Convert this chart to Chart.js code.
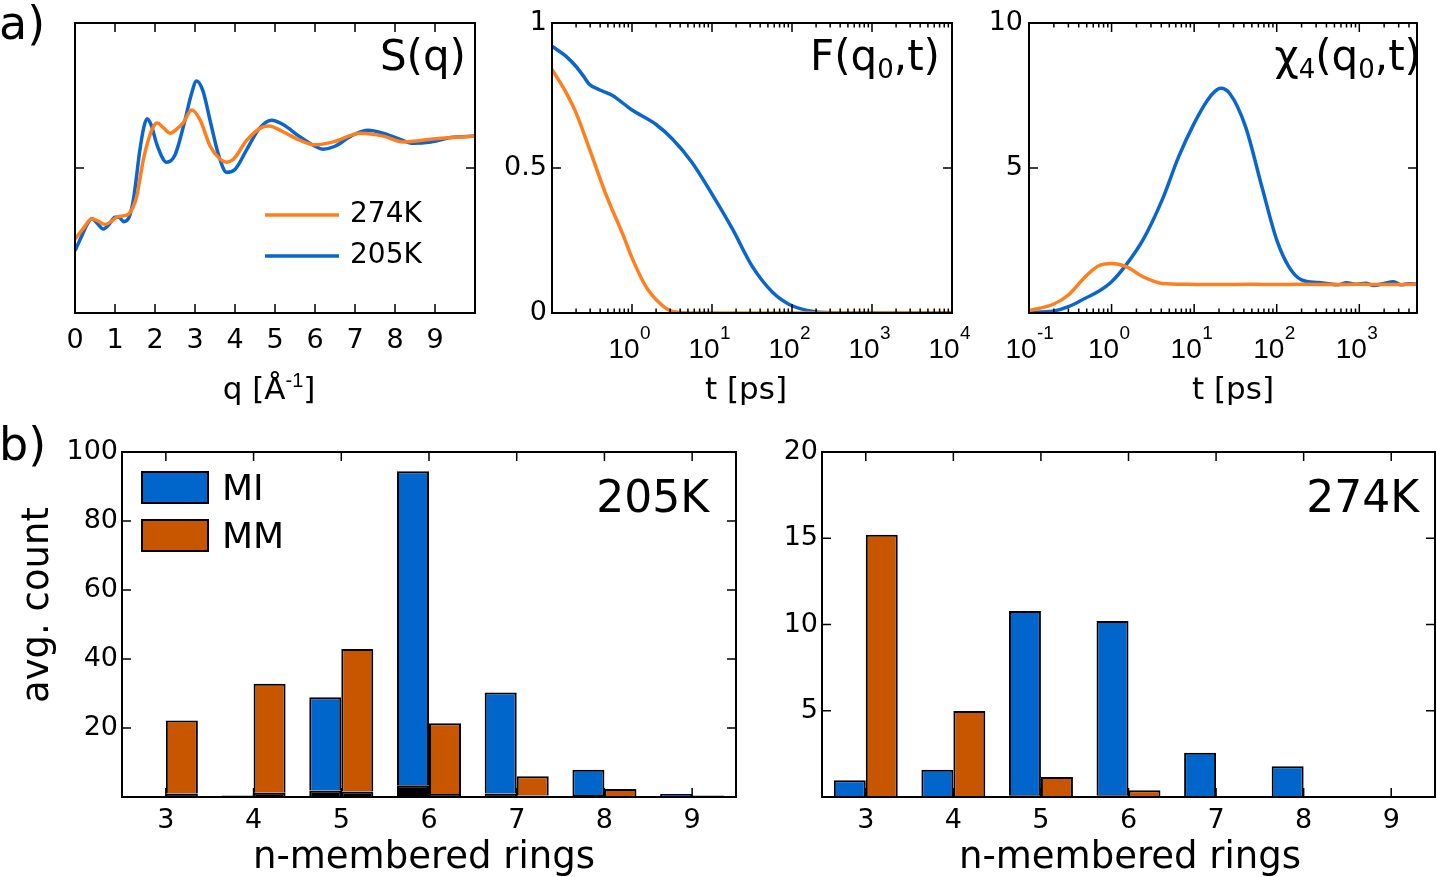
<!DOCTYPE html>
<html><head><meta charset="utf-8">
<script src="https://cdn.jsdelivr.net/npm/chart.js@4.4.1/dist/chart.umd.min.js"></script>
<style>
html,body{margin:0;padding:0;background:#fff;}
#wrap{position:relative;width:1437px;height:877px;overflow:hidden;background:#fff;}
canvas{position:absolute;left:0;top:0;}
</style></head>
<body><div id="wrap">
<canvas id="pS" width="1437" height="877"></canvas>
<canvas id="pF" width="1437" height="877"></canvas>
<canvas id="pC" width="1437" height="877"></canvas>
<canvas id="bL" width="1437" height="877"></canvas>
<canvas id="bR" width="1437" height="877"></canvas>
</div>
<script>
// ---------------- DATA ----------------
// S(q)
const sqQ205 = [0,0.15,0.3,0.42,0.55,0.71,0.85,1.0,1.1,1.22,1.35,1.46,1.62,1.72,1.8,1.9,2.05,2.29,2.5,2.75,2.9,3.04,3.2,3.4,3.6,3.79,4.0,4.3,4.6,4.92,5.2,5.6,6.0,6.2,6.5,6.9,7.33,7.7,8.1,8.46,8.9,9.4,10];
const sqS205 = [0.43,0.52,0.61,0.65,0.62,0.58,0.61,0.66,0.66,0.63,0.66,0.78,1.12,1.28,1.34,1.30,1.16,1.04,1.09,1.33,1.50,1.60,1.53,1.30,1.08,0.97,0.99,1.13,1.27,1.33,1.30,1.22,1.15,1.13,1.15,1.22,1.26,1.24,1.20,1.17,1.18,1.21,1.22];
const sqQ274 = [0,0.2,0.42,0.6,0.75,0.9,1.04,1.2,1.33,1.45,1.54,1.62,1.71,1.83,1.95,2.06,2.2,2.38,2.55,2.7,2.92,3.13,3.38,3.63,3.79,3.96,4.29,4.67,4.85,5.2,5.63,6.0,6.46,7.13,7.71,8.21,8.96,10];
const sqS274 = [0.51,0.58,0.65,0.63,0.61,0.63,0.66,0.67,0.68,0.73,0.80,0.92,1.06,1.19,1.28,1.31,1.28,1.24,1.27,1.31,1.40,1.33,1.15,1.06,1.04,1.06,1.19,1.28,1.29,1.25,1.19,1.16,1.18,1.24,1.22,1.18,1.20,1.22];
const sqTickLabels = ['0','1','2','3','4','5','6','7','8','9',''];
// F(q0,t)
const fT205 = [0.1,0.15,0.2,0.25,0.29,0.39,0.57,1,2,3.2,5.6,10,18,32,58,100,186,400,10000];
const fV205 = [0.92,0.885,0.85,0.815,0.79,0.77,0.75,0.70,0.65,0.60,0.52,0.41,0.29,0.16,0.07,0.025,0.005,0,0];
const fT274 = [0.1,0.15,0.2,0.29,0.47,0.77,1,1.5,2.3,3.2,5,10000];
const fV274 = [0.84,0.76,0.69,0.57,0.41,0.27,0.19,0.09,0.03,0.005,0,0];
const fYTickLabels = {0: '0', 0.5: '0.5', 1: '1'};
// chi4(q0,t)
const chiT205 = [0.1,0.2,0.3,0.48,0.69,1,1.5,2.4,4.1,6.5,10,14.5,18,21,27,42,66,100,140,200,320,400,550,700,900,1200,1500,2000,2600,3200,4000,5000];
const chiV205 = [0.02,0.07,0.22,0.51,0.74,1.08,1.66,2.52,3.90,5.39,6.54,7.34,7.65,7.75,7.57,6.42,4.36,2.52,1.60,1.14,1.05,1.02,0.97,1.04,0.99,1.03,0.95,1.02,1.08,0.97,1.01,0.99];
const chiT274 = [0.1,0.2,0.3,0.48,0.69,1,1.5,2.4,4.1,8.5,20,50,100,200,500,1000,2000,5000];
const chiV274 = [0.08,0.31,0.62,1.25,1.62,1.71,1.60,1.25,1.02,0.99,0.98,0.99,0.98,0.99,0.98,0.99,0.98,0.99];
// ring statistics
const ringSizes = ['3','4','5','6','7','8','9'];
const mi205     = [0.3, 0.4, 28.9, 94.4, 30.3, 7.9, 0.9];
const mi205Dark = [0,   0,   1.9,  3.4,  1.0,  0.6, 0.3];
const mm205     = [22.2, 32.8, 42.9, 21.4, 6.0, 2.3, 0.4];
const mm205Dark = [1.0,  1.2,  1.6,  0.9,  0.4, 0.2, 0.1];
const mi274     = [0.97, 1.58, 10.78, 10.2, 2.57, 1.78, 0];
const mi274Dark = [0,    0,    0.1,   0.1,  0,    0,    0];
const mm274     = [15.2, 4.99, 1.16, 0.39, 0, 0, 0];
const mm274Dark = [0,    0,    0,    0,    0, 0, 0];

// ---------------- STYLE ----------------
const LINE_BLUE = '#0a66cc', LINE_ORANGE = '#ff7f1e';
const BAR_BLUE = '#0066cc', BAR_ORANGE = '#c85500';
const FONT = 'DejaVu Sans', LOGFONT = 'Liberation Sans';
Chart.defaults.font.family = FONT;
Chart.defaults.color = '#000';
Chart.defaults.animation = false;

function isDecade(v){ const l = Math.log10(v); return Math.abs(l - Math.round(l)) < 1e-6; }
function logTicks(min, max){
  const t = [];
  for (let e = Math.floor(Math.log10(min)); e <= Math.ceil(Math.log10(max)); e++) {
    for (let m = 1; m < 10; m++) {
      const v = m * Math.pow(10, e);
      if (v >= min * 0.999 && v <= max * 1.001) t.push({value: v});
    }
  }
  return t;
}
const zip = (xs, ys) => xs.map((x, i) => ({x, y: ys[i]}));

// ---------------- PLUGINS ----------------
const ANNOT = {}, TICKCFG = {};
function drawParts(ctx, t){
  // t.parts: [{text, size, dy}] drawn left to right, whole group aligned by t.align
  let total = 0;
  const widths = t.parts.map(p => { ctx.font = `${p.size}px "${p.family || FONT}"`; const w = ctx.measureText(p.text).width; total += w; return w; });
  let x = t.align === 'center' ? -total / 2 : (t.align === 'right' ? -total : 0);
  t.parts.forEach((p, i) => {
    ctx.font = `${p.size}px "${p.family || FONT}"`;
    ctx.textAlign = 'left';
    ctx.fillText(p.text, x, p.dy || 0);
    x += widths[i];
  });
}
const frame = {
  id: 'frame',
  afterDatasetsDraw(chart){
    const cfg = TICKCFG[chart.canvas.id]; if (!cfg) return;
    const {ctx, chartArea: a} = chart;
    ctx.save();
    ctx.strokeStyle = '#000'; ctx.lineWidth = 1.5; ctx.lineCap = 'butt';
    const xs = chart.scales.x, ys = chart.scales.y;
    xs.ticks.forEach((t, i) => {
      const p = cfg.cat ? xs.getPixelForTick(i) : xs.getPixelForValue(t.value);
      const len = cfg.logX ? (isDecade(t.value) ? 9 : 4.5) : cfg.len;
      ctx.beginPath();
      ctx.moveTo(p, a.bottom); ctx.lineTo(p, a.bottom - len);
      ctx.moveTo(p, a.top); ctx.lineTo(p, a.top + len);
      ctx.stroke();
    });
    ys.ticks.forEach(t => {
      const p = ys.getPixelForValue(t.value);
      ctx.beginPath();
      ctx.moveTo(a.left, p); ctx.lineTo(a.left + cfg.len, p);
      ctx.moveTo(a.right, p); ctx.lineTo(a.right - cfg.len, p);
      ctx.stroke();
    });
    ctx.lineWidth = 2;
    ctx.strokeRect(a.left, a.top, a.right - a.left, a.bottom - a.top);
    ctx.restore();
  },
  afterDraw(chart){
    const ctx = chart.ctx;
    const cfg = TICKCFG[chart.canvas.id];
    ctx.save();
    ctx.fillStyle = '#000';
    // exponents of the decade tick labels ("10" is drawn by the axis itself)
    if (cfg && cfg.logX) {
      const xs = chart.scales.x, a = chart.chartArea;
      ctx.font = `19px "${LOGFONT}"`;
      ctx.textAlign = 'left'; ctx.textBaseline = 'alphabetic';
      xs.ticks.forEach(t => {
        if (!isDecade(t.value)) return;
        const e = Math.round(Math.log10(t.value));
        if (e < cfg.expMin) return;
        ctx.fillText(String(e), xs.getPixelForValue(t.value) + 8, a.bottom + 26);
      });
    }
    const o = ANNOT[chart.canvas.id];
    if (o) {
      (o.lines || []).forEach(l => {
        ctx.strokeStyle = l.color; ctx.lineWidth = l.width;
        ctx.beginPath(); ctx.moveTo(l.x1, l.y1); ctx.lineTo(l.x2, l.y2); ctx.stroke();
      });
      (o.boxes || []).forEach(b => {
        ctx.fillStyle = b.color; ctx.fillRect(b.x, b.y, b.w, b.h);
        ctx.strokeStyle = '#000'; ctx.lineWidth = 2; ctx.strokeRect(b.x, b.y, b.w, b.h);
      });
      (o.texts || []).forEach(t => {
        ctx.save();
        ctx.translate(t.x, t.y);
        if (t.rot) ctx.rotate(t.rot);
        ctx.fillStyle = '#000';
        ctx.textBaseline = t.base || 'alphabetic';
        if (t.parts) { drawParts(ctx, t); }
        else {
          ctx.font = `${t.size}px "${FONT}"`;
          ctx.textAlign = t.align || 'left';
          ctx.fillText(t.text, 0, 0);
        }
        ctx.restore();
      });
    }
    ctx.restore();
  }
};
Chart.register(frame);

const W = 1437, H = 877;
const XAXIS_H = 60;   // fixed height reserved for x tick labels
// plot box l,t,r,b and width reserved for the y tick labels
function pad(l, t, r, b, yw){ return {left: l - yw, top: t, right: W - r, bottom: H - b - XAXIS_H}; }
const noGrid = {display: false, drawTicks: false};
const noBorder = {display: false};
const fitX = s => { s.height = XAXIS_H; };
const fitYw = w => (s => { s.width = w; });

function lineDs(label, data, color){
  return {label, data, borderColor: color, borderWidth: 3.5, pointRadius: 0,
          cubicInterpolationMode: 'monotone', fill: false};
}
function logXAxis(min, max, expMin){
  return {type: 'logarithmic', min, max, grid: noGrid, border: noBorder, afterFit: fitX,
          afterBuildTicks: s => { s.ticks = logTicks(min, max); },
          ticks: {autoSkip: false, maxRotation: 0, padding: 20, labelOffset: -8,
                  font: {family: LOGFONT, size: 28},
                  callback: v => (isDecade(v) && Math.round(Math.log10(v)) >= expMin) ? '10' : ''}};
}

// ---------------- S(q) ----------------
TICKCFG.pS = {len: 9};
ANNOT.pS = {
  texts: [
    {text: 'a)', x: -1, y: 39, size: 46},
    {text: 'S(q)', x: 466, y: 70, size: 42, align: 'right'},
    {text: '274K', x: 350, y: 215, size: 28, base: 'middle'},
    {text: '205K', x: 350, y: 256, size: 28, base: 'middle'},
    {parts: [{text: 'q [Å', size: 31}, {text: '-1', size: 20, dy: -12, family: LOGFONT}, {text: ']', size: 31}],
     x: 269, y: 399, align: 'center'}
  ],
  lines: [
    {x1: 265, y1: 215, x2: 339, y2: 215, color: LINE_ORANGE, width: 3.5},
    {x1: 265, y1: 256, x2: 339, y2: 256, color: LINE_BLUE, width: 3.5}
  ]
};
new Chart(document.getElementById('pS'), {
  type: 'line',
  data: {datasets: [
    lineDs('274K', zip(sqQ274, sqS274), LINE_ORANGE),
    lineDs('205K', zip(sqQ205, sqS205), LINE_BLUE)
  ]},
  options: {
    responsive: false, layout: {padding: pad(75, 23, 475, 313, 60)},
    plugins: {legend: {display: false}, tooltip: {enabled: false}},
    scales: {
      x: {type: 'linear', min: 0, max: 10, grid: noGrid, border: noBorder, afterFit: fitX,
          ticks: {stepSize: 1, autoSkip: false, maxRotation: 0, padding: 12, font: {size: 27},
                  callback: v => sqTickLabels[v] ?? ''}},
      y: {type: 'linear', min: 0, max: 2, grid: noGrid, border: noBorder, afterFit: fitYw(60),
          ticks: {stepSize: 1, callback: () => ''}}
    }
  }
});

// ---------------- F(q0,t) ----------------
TICKCFG.pF = {len: 9, logX: true, expMin: 0};
ANNOT.pF = {
  texts: [
    {parts: [{text: 'F(q', size: 42}, {text: '0', size: 26, dy: 8}, {text: ',t)', size: 42}],
     x: 940, y: 70, align: 'right'},
    {text: 't [ps]', x: 746, y: 399, size: 31, align: 'center'}
  ]
};
new Chart(document.getElementById('pF'), {
  type: 'line',
  data: {datasets: [
    lineDs('274K', zip(fT274, fV274), LINE_ORANGE),
    lineDs('205K', zip(fT205, fV205), LINE_BLUE)
  ]},
  options: {
    responsive: false, layout: {padding: pad(552, 23, 952, 313, 80)},
    plugins: {legend: {display: false}, tooltip: {enabled: false}},
    scales: {
      x: logXAxis(0.1, 10000, 0),
      y: {type: 'linear', min: 0, max: 1, grid: noGrid, border: noBorder, afterFit: fitYw(80),
          ticks: {stepSize: 0.5, padding: 5, font: {size: 27}, callback: v => fYTickLabels[v] ?? ''}}
    }
  }
});

// ---------------- chi4(q0,t) ----------------
TICKCFG.pC = {len: 9, logX: true, expMin: -1};
ANNOT.pC = {
  texts: [
    {parts: [{text: 'χ', size: 42}, {text: '4', size: 26, dy: 8}, {text: '(q', size: 42},
             {text: '0', size: 26, dy: 8}, {text: ',t)', size: 42}],
     x: 1421, y: 70, align: 'right'},
    {text: 't [ps]', x: 1233, y: 399, size: 31, align: 'center'}
  ]
};
new Chart(document.getElementById('pC'), {
  type: 'line',
  data: {datasets: [
    lineDs('274K', zip(chiT274, chiV274), LINE_ORANGE),
    lineDs('205K', zip(chiT205, chiV205), LINE_BLUE)
  ]},
  options: {
    responsive: false, layout: {padding: pad(1029, 23, 1430, 313, 60)},
    plugins: {legend: {display: false}, tooltip: {enabled: false}},
    scales: {
      x: logXAxis(0.1, 5000, -1),
      y: {type: 'linear', min: 0, max: 10, grid: noGrid, border: noBorder, afterFit: fitYw(60),
          ticks: {stepSize: 5, padding: 6, font: {size: 27}, callback: v => v === 0 ? '' : String(v)}}
    }
  }
});

// ---------------- bar charts ----------------
function barDs(label, stack, data, color){
  return {label, stack, data, backgroundColor: color, borderColor: '#000', borderWidth: 2,
          categoryPercentage: 0.73, barPercentage: 1.0};
}
function barSets(mi, miDark, mm, mmDark){
  return [
    barDs('MI dark', 'MI', miDark, '#000'),
    barDs('MI', 'MI', mi.map((v, i) => Math.max(v - miDark[i], 0)), BAR_BLUE),
    barDs('MM dark', 'MM', mmDark, '#000'),
    barDs('MM', 'MM', mm.map((v, i) => Math.max(v - mmDark[i], 0)), BAR_ORANGE)
  ];
}
function barOptions(l, r, ymax, step){
  return {
    responsive: false, layout: {padding: pad(l, 452, r, 797, 80)},
    plugins: {legend: {display: false}, tooltip: {enabled: false}},
    scales: {
      x: {type: 'category', stacked: true, offset: true, grid: {display: false, drawTicks: false, offset: true},
          border: noBorder, afterFit: fitX,
          ticks: {autoSkip: false, maxRotation: 0, padding: 8, font: {size: 27}}},
      y: {type: 'linear', stacked: true, min: 0, max: ymax, grid: noGrid, border: noBorder, afterFit: fitYw(80),
          ticks: {stepSize: step, padding: 4, font: {size: 27}, callback: v => v === 0 ? '' : String(v)}}
    }
  };
}

TICKCFG.bL = {len: 9, cat: true};
ANNOT.bL = {
  texts: [
    {text: 'b)', x: -1, y: 460, size: 46},
    {text: '205K', x: 709, y: 512, size: 44, align: 'right'},
    {text: 'MI', x: 222, y: 500, size: 36},
    {text: 'MM', x: 222, y: 548, size: 36},
    {text: 'avg. count', x: 38, y: 605, size: 37, align: 'center', base: 'middle', rot: -Math.PI / 2},
    {text: 'n-membered rings', x: 424, y: 868, size: 37, align: 'center'}
  ],
  boxes: [
    {x: 142, y: 472, w: 66, h: 31, color: BAR_BLUE},
    {x: 142, y: 520, w: 66, h: 31, color: BAR_ORANGE}
  ]
};
new Chart(document.getElementById('bL'), {
  type: 'bar',
  data: {labels: ringSizes, datasets: barSets(mi205, mi205Dark, mm205, mm205Dark)},
  options: barOptions(122, 736, 100, 20)
});

TICKCFG.bR = {len: 9, cat: true};
ANNOT.bR = {
  texts: [
    {text: '274K', x: 1419, y: 512, size: 44, align: 'right'},
    {text: 'n-membered rings', x: 1130, y: 868, size: 37, align: 'center'}
  ]
};
new Chart(document.getElementById('bR'), {
  type: 'bar',
  data: {labels: ringSizes, datasets: barSets(mi274, mi274Dark, mm274, mm274Dark)},
  options: barOptions(822, 1435, 20, 5)
});
</script>
</body></html>
